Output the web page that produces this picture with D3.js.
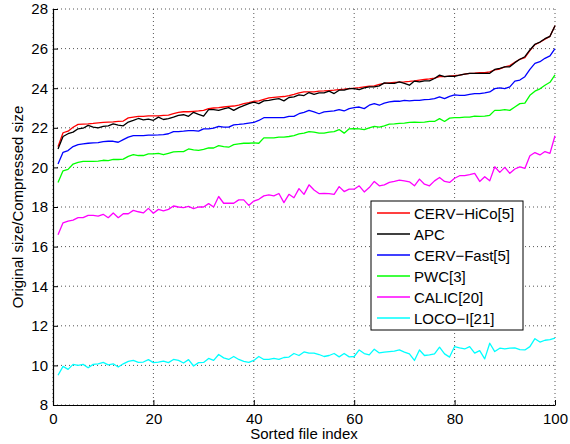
<!DOCTYPE html>
<html>
<head>
<meta charset="utf-8">
<script src="https://cdn.jsdelivr.net/npm/d3@7"></script>
<style>
    body { margin: 0; background: #fff; }
    text { font-family: "Liberation Sans", Arial, Helvetica, sans-serif; }
</style>
</head>
<body>
<svg width="570" height="444"></svg>
<script>
// values, file index 1..100
const cervHiCo = [21.05, 21.75, 21.83, 22.03, 22.17, 22.19, 22.2, 22.22, 22.25, 22.27,
    22.29, 22.3, 22.32, 22.34, 22.5, 22.54, 22.58, 22.58, 22.6, 22.6,
    22.6, 22.63, 22.64, 22.71, 22.78, 22.81, 22.81, 22.83, 22.85, 22.88,
    22.97, 23.0, 23.02, 23.05, 23.08, 23.1, 23.14, 23.22, 23.27, 23.34,
    23.36, 23.44, 23.51, 23.54, 23.56, 23.58, 23.63, 23.69, 23.76, 23.81,
    23.81, 23.81, 23.85, 23.86, 23.88, 23.9, 23.93, 23.95, 23.98, 24.0,
    24.03, 24.07, 24.1, 24.12, 24.19, 24.24, 24.27, 24.29, 24.31, 24.32,
    24.34, 24.37, 24.41, 24.44, 24.47, 24.51, 24.58, 24.58, 24.61, 24.64,
    24.66, 24.71, 24.75, 24.76, 24.78, 24.78, 24.83, 24.92, 24.97, 25.08,
    25.14, 25.31, 25.46, 25.54, 25.9, 26.2, 26.32, 26.48, 26.62, 27.15];

const apc = [20.93, 21.56, 21.7, 21.78, 21.95, 21.98, 22.12, 22.03, 22.0, 22.07,
    22.1, 22.2, 22.14, 22.1, 22.29, 22.37, 22.47, 22.4, 22.44, 22.38,
    22.54, 22.42, 22.46, 22.54, 22.63, 22.66, 22.58, 22.78, 22.68, 22.59,
    22.92, 22.92, 22.88, 22.95, 23.02, 22.88, 23.02, 23.12, 23.22, 23.3,
    23.22, 23.36, 23.39, 23.44, 23.47, 23.36, 23.53, 23.56, 23.66, 23.63,
    23.78, 23.69, 23.76, 23.76, 23.85, 23.73, 23.9, 23.9, 23.98, 23.98,
    23.93, 24.02, 24.07, 24.07, 24.12, 24.27, 24.24, 24.24, 24.32, 24.24,
    24.15, 24.36, 24.32, 24.37, 24.37, 24.49, 24.66, 24.58, 24.61, 24.6,
    24.66, 24.71, 24.75, 24.75, 24.75, 24.75, 24.75, 24.95, 25.0, 25.08,
    25.08, 25.29, 25.46, 25.59, 25.93, 26.22, 26.33, 26.5, 26.62, 27.15];

const cervFast = [20.17, 20.76, 20.85, 21.05, 21.15, 21.19, 21.22, 21.24, 21.25, 21.3,
    21.32, 21.32, 21.27, 21.4, 21.53, 21.6, 21.6, 21.6, 21.63, 21.63,
    21.64, 21.66, 21.7, 21.81, 21.81, 21.83, 21.86, 21.86, 21.83, 21.95,
    21.95, 21.98, 22.07, 22.03, 22.03, 22.15, 22.17, 22.2, 22.24, 22.27,
    22.37, 22.51, 22.51, 22.51, 22.51, 22.51, 22.58, 22.58, 22.71, 22.78,
    22.88, 22.8, 22.71, 22.8, 22.83, 22.85, 22.92, 22.85, 22.97, 23.02,
    23.05, 22.97, 23.14, 23.22, 23.14, 23.25, 23.31, 23.34, 23.34, 23.39,
    23.36, 23.39, 23.39, 23.42, 23.44, 23.47, 23.56, 23.47, 23.59, 23.66,
    23.64, 23.64, 23.69, 23.73, 23.73, 23.76, 23.81, 23.98, 24.02, 23.98,
    24.07, 24.36, 24.41, 24.58, 24.95, 25.25, 25.34, 25.51, 25.63, 26.0];

const pwc = [19.24, 19.83, 19.9, 20.17, 20.25, 20.3, 20.3, 20.3, 20.32, 20.36,
    20.34, 20.4, 20.4, 20.42, 20.56, 20.64, 20.6, 20.6, 20.68, 20.68,
    20.71, 20.64, 20.71, 20.78, 20.8, 20.8, 20.93, 20.88, 20.86, 20.91,
    20.98, 20.98, 21.1, 21.05, 21.02, 21.15, 21.19, 21.22, 21.22, 21.24,
    21.22, 21.49, 21.49, 21.49, 21.53, 21.53, 21.56, 21.61, 21.69, 21.73,
    21.81, 21.78, 21.73, 21.73, 21.78, 21.81, 21.91, 21.73, 21.95, 21.96,
    21.95, 21.91, 22.0, 22.07, 22.03, 22.1, 22.19, 22.2, 22.22, 22.24,
    22.27, 22.29, 22.27, 22.29, 22.32, 22.32, 22.46, 22.32, 22.49, 22.51,
    22.51, 22.54, 22.54, 22.59, 22.58, 22.59, 22.63, 22.88, 22.88, 22.92,
    22.88, 23.05, 23.22, 23.25, 23.64, 23.85, 23.97, 24.15, 24.3, 24.67];

const calic = [16.6, 17.2, 17.29, 17.34, 17.46, 17.46, 17.58, 17.58, 17.54, 17.63,
    17.46, 17.7, 17.46, 17.66, 17.66, 17.83, 17.76, 17.7, 17.93, 17.68,
    17.88, 17.8, 17.88, 18.05, 18.0, 17.97, 18.03, 17.92, 18.0, 18.0,
    18.17, 18.0, 18.53, 18.19, 18.19, 18.19, 18.36, 18.36, 18.08, 18.3,
    18.39, 18.56, 18.61, 18.56, 18.68, 18.22, 18.64, 18.47, 18.93, 18.64,
    19.12, 18.86, 18.68, 18.69, 18.68, 18.64, 19.03, 18.78, 18.9, 18.9,
    19.07, 18.76, 18.98, 19.29, 19.07, 19.12, 19.24, 19.29, 19.36, 19.32,
    19.27, 19.07, 19.41, 19.15, 19.07, 19.32, 19.49, 19.29, 19.24, 19.45,
    19.58, 19.58, 19.63, 19.7, 19.29, 19.53, 19.32, 20.03, 19.75, 20.0,
    19.7, 19.92, 20.03, 19.95, 20.59, 20.75, 20.63, 20.8, 20.71, 21.6];

const locoI = [9.5, 9.95, 9.8, 10.05, 10.0, 10.05, 9.88, 10.05, 10.08, 10.15,
    10.03, 10.08, 9.92, 10.08, 10.2, 10.25, 10.15, 10.17, 10.29, 10.14,
    10.17, 10.22, 10.14, 10.3, 10.25, 10.12, 10.29, 9.97, 10.14, 10.15,
    10.35, 10.25, 10.55, 10.38, 10.3, 10.45, 10.3, 10.2, 10.15, 10.25,
    10.45, 10.3, 10.3, 10.35, 10.3, 10.4, 10.42, 10.6, 10.5, 10.68,
    10.62, 10.62, 10.55, 10.45, 10.5, 10.6, 10.43, 10.6, 10.43, 10.45,
    10.78, 10.6, 10.53, 10.82, 10.63, 10.67, 10.7, 10.72, 10.78, 10.67,
    10.58, 10.25, 10.78, 10.5, 10.53, 10.58, 10.92, 10.58, 10.42, 10.95,
    10.88, 10.83, 10.95, 10.62, 10.75, 10.33, 11.12, 10.7, 10.87, 10.83,
    10.87, 10.88, 10.8, 10.78, 10.95, 11.35, 11.18, 11.27, 11.3, 11.38];

const seriesNames = ["CERV\u2212HiCo[5]", "APC", "CERV\u2212Fast[5]", "PWC[3]", "CALIC[20]", "LOCO\u2212I[21]"];
const seriesValues = [cervHiCo, apc, cervFast, pwc, calic, locoI];
const seriesColors = ["#ff0000", "#000000", "#0000ff", "#00ff00", "#ff00ff", "#00ffff"];

const xTicks = [0, 20, 40, 60, 80, 100];
const yTicks = [8, 10, 12, 14, 16, 18, 20, 22, 24, 26, 28];

const svg = d3.select("svg"),
    margin = {top: 9, right: 15, bottom: 39, left: 53},
    width = +svg.attr("width") - margin.left - margin.right,
    height = +svg.attr("height") - margin.top - margin.bottom;

const g = svg.append("g")
    .attr("transform", `translate(${margin.left},${margin.top})`);

const x = d3.scaleLinear().domain([0, 100]).range([0, width]);
const y = d3.scaleLinear().domain([8, 28]).range([height, 0]);

// dotted grid
g.append("g")
    .selectAll("line")
    .data(xTicks)
    .enter().append("line")
    .attr("x1", function(d) { return x(d); })
    .attr("x2", function(d) { return x(d); })
    .attr("y1", 0)
    .attr("y2", height)
    .attr("stroke", "#555")
    .attr("stroke-dasharray", "1,3");

g.append("g")
    .selectAll("line")
    .data(yTicks)
    .enter().append("line")
    .attr("x1", 0)
    .attr("x2", width)
    .attr("y1", function(d) { return y(d); })
    .attr("y2", function(d) { return y(d); })
    .attr("stroke", "#555")
    .attr("stroke-dasharray", "1,3");

// axes, ticks pointing inward like matlab
const xAxis = g.append("g")
    .attr("transform", `translate(0,${height})`)
    .call(d3.axisBottom(x).tickValues(xTicks).tickSizeInner(-5).tickSizeOuter(0).tickPadding(8));

const yAxis = g.append("g")
    .call(d3.axisLeft(y).tickValues(yTicks).tickSizeInner(-5).tickSizeOuter(0).tickPadding(5));

[xAxis, yAxis].forEach(function(a) {
    a.select(".domain").attr("stroke", "#000").attr("stroke-width", 1.2);
    a.selectAll(".tick line").attr("stroke", "#000");
    a.selectAll(".tick text")
        .attr("fill", "#000")
        .style("font-size", "15px")
        .style("font-family", "'Liberation Sans', Arial, sans-serif");
});

// data lines
const line = d3.line()
    .x(function(d, i) { return x(i + 1); })
    .y(function(d) { return y(d); });

g.append("g")
    .selectAll("path")
    .data(seriesValues)
    .enter().append("path")
    .attr("d", line)
    .attr("fill", "none")
    .attr("stroke", function(d, i) { return seriesColors[i]; })
    .attr("stroke-width", 1.3)
    .attr("stroke-linejoin", "round");

// axis labels
svg.append("text")
    .attr("x", margin.left + width / 2)
    .attr("y", 439)
    .attr("text-anchor", "middle")
    .style("font-size", "15px")
    .text("Sorted file index");

svg.append("text")
    .attr("transform", `translate(23,${margin.top + height / 2}) rotate(-90)`)
    .attr("text-anchor", "middle")
    .style("font-size", "15px")
    .text("Original size/Compressed size");

// legend
const legend = svg.append("g")
    .attr("transform", "translate(371,201)");

legend.append("rect")
    .attr("width", 152)
    .attr("height", 129)
    .attr("fill", "#fff")
    .attr("stroke", "#000")
    .attr("stroke-width", 1);

legend.selectAll("myLegendLines")
    .data(seriesNames)
    .enter().append("line")
    .attr("x1", 6)
    .attr("x2", 39)
    .attr("y1", function(d, i) { return 12 + i * 21; })
    .attr("y2", function(d, i) { return 12 + i * 21; })
    .attr("stroke", function(d, i) { return seriesColors[i]; })
    .attr("stroke-width", 1.3);

legend.selectAll("myLegendLabels")
    .data(seriesNames)
    .enter().append("text")
    .attr("x", 43)
    .attr("y", function(d, i) { return 17.5 + i * 21; })
    .text(function(d) { return d; })
    .style("font-size", "15px");
</script>
</body>
</html>
